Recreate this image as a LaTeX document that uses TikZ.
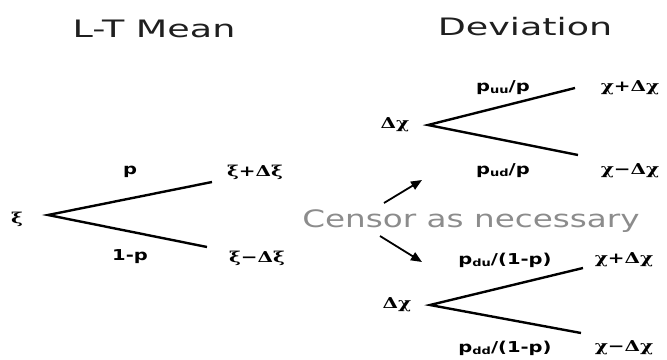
\documentclass[tikz,border=0pt]{standalone}
\usepackage{fontspec}
\setmainfont{DejaVu Sans}
\newfontfamily\titlefont[FakeStretch=1.52]{DejaVu Sans}
\newfontfamily\notefont[FakeStretch=1.36]{DejaVu Sans}
\newfontfamily\probfont[FakeStretch=1.3]{DejaVu Sans}
\newfontfamily\gr[FakeStretch=1.33]{DejaVu Serif}
\usetikzlibrary{arrows.meta}
\tikzset{
  title/.style={font=\titlefont\fontsize{24}{24}\selectfont, text=black!88},
  greek/.style={font=\gr\bfseries\fontsize{15}{15}\selectfont},
  prob/.style={font=\probfont\bfseries\fontsize{15}{15}\selectfont},
  branch/.style={line width=2.4pt},
  note/.style={font=\notefont\fontsize{24}{24}\selectfont, text=black!45},
  pointer/.style={line width=1.8pt, -{Triangle[length=11pt,width=9pt]}},
}
\newcommand{\sbs}[1]{\raisebox{-2pt}{\fontsize{10}{10}\selectfont #1}}
\begin{document}
\begin{tikzpicture}[x=1pt,y=-1pt]
\useasboundingbox (0,0) rectangle (667,359);

% titles
\node[title] (t1) at (154,29) {L-T Mean};
\node[title] (t2) at (525,27) {Deviation};

% long-term mean tree
\node[greek] (xi) at (17,219) {ξ};
\node[prob] (p) at (130,172) {p};
\node[prob] (q) at (130,257) {1-p};
\node[greek] (xiu) at (255,172) {ξ+Δξ};
\node[greek] (xid) at (257,258) {ξ−Δξ};
\coordinate (a0) at (48,215);
\coordinate (a1) at (212,182);
\coordinate (a2) at (207,247);
\draw[branch] (a1) -- (a0) -- (a2);

% upper deviation tree
\node[greek] (dxu) at (395,125) {Δχ};
\node[prob] (puu) at (503,88) {p\sbs{uu}/p};
\node[prob] (pud) at (503,171) {p\sbs{ud}/p};
\node[greek] (chuu) at (630,88) {χ+Δχ};
\node[greek] (chud) at (630,171) {χ−Δχ};
\coordinate (b0) at (428,125);
\coordinate (b1) at (575,88);
\coordinate (b2) at (578,155);
\draw[branch] (b1) -- (b0) -- (b2);

% censoring note
\node[note] (cens) at (471,221) {Censor as necessary};
\coordinate (c1) at (384,203);
\coordinate (c2) at (422,180);
\coordinate (c3) at (380,236);
\coordinate (c4) at (422,262);
\draw[pointer] (c1) -- (c2);
\draw[pointer] (c3) -- (c4);

% lower deviation tree
\node[greek] (dxd) at (397,305) {Δχ};
\node[prob] (pdu) at (505,260) {p\sbs{du}/(1-p)};
\node[prob] (pdd) at (505,348) {p\sbs{dd}/(1-p)};
\node[greek] (chdu) at (624,260) {χ+Δχ};
\node[greek] (chdd) at (624,348) {χ−Δχ};
\coordinate (d0) at (430,305);
\coordinate (d1) at (583,268);
\coordinate (d2) at (581,333);
\draw[branch] (d1) -- (d0) -- (d2);
\end{tikzpicture}
\end{document}
